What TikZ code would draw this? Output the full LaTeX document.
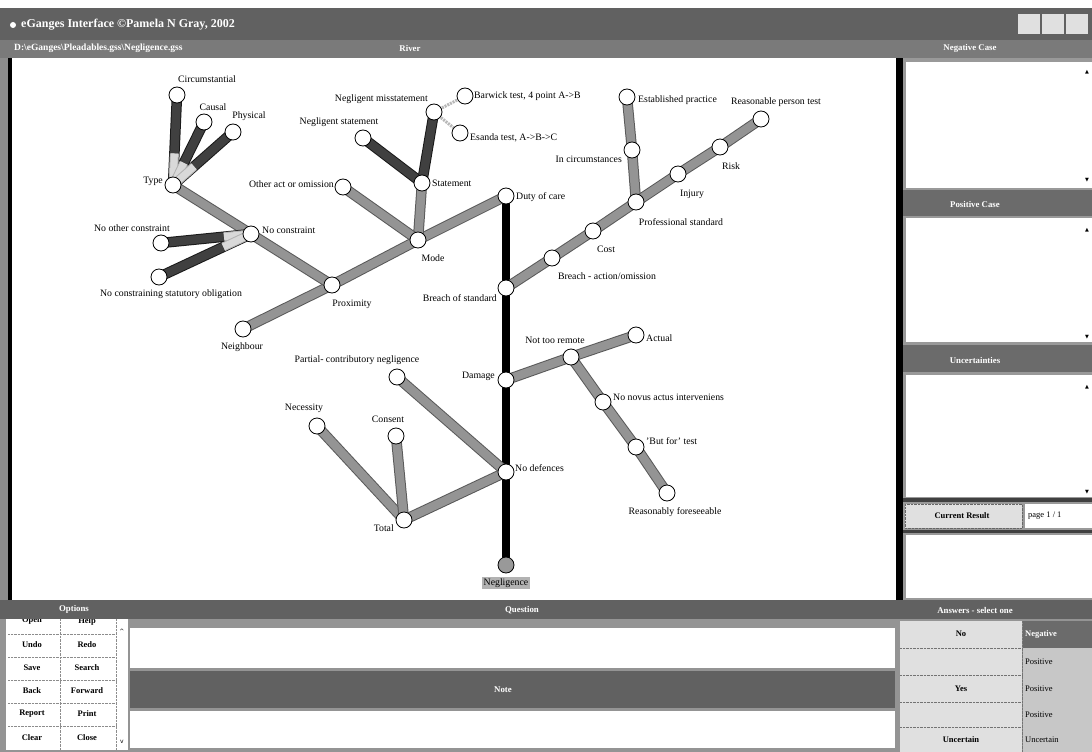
\documentclass[tikz,border=0pt]{standalone}
\usepackage{fontspec}
\setmainfont{Liberation Serif}
\newfontfamily\symfont{DejaVu Sans}
\usetikzlibrary{calc}
\pgfdeclarelayer{panel}
\pgfdeclarelayer{edges}
\pgfsetlayers{panel,edges,main}
\begin{document}
\begin{tikzpicture}[x=1pt,y=-1pt,
  stop/.style={circle,draw,fill=white,line width=0.8pt,minimum size=16pt,inner sep=0pt},
  root/.style={stop,fill=black!40},
  lbl/.style={inner sep=1pt,font=\fontsize{9.8}{11}\selectfont},
  trunk/.style={line width=8pt,black},
  branch/.style={double=black!42,double distance=8.5pt,line width=1pt,draw=black!65},
  darkbr/.style={double=black!75,double distance=8.5pt,line width=1pt,draw=black!90},
  glow/.style={double=black!15,double distance=7pt,line width=1pt,draw=black!30},
  thinbr/.style={line width=3pt,black!28,dash pattern=on 2pt off 1pt},
  hdr/.style={text=white,inner sep=1pt,font=\fontsize{8.8}{10}\selectfont\bfseries},
  btn/.style={inner sep=1pt,font=\fontsize{8.5}{10}\selectfont\bfseries},
  arr/.style={inner sep=0pt,font=\symfont\fontsize{5}{6}\selectfont}
]
\useasboundingbox (0,0) rectangle (1092,752);
\begin{pgfonlayer}{panel}
% top bars
\fill[white] (0,0) rectangle (1092,8);
\fill[black!62] (0,8) rectangle (1092,40);
\fill[black!52] (0,40) rectangle (1092,58);
\foreach \x in {1018,1042,1066} \fill[black!12] (\x,14) rectangle ++(22,20);
% left border
\fill[black!45] (0,58) rectangle (12,600);
\fill[black] (8,58) rectangle (12,600);
% canvas
\fill[white] (12,58) rectangle (896,597);
% right column
\fill[black!40] (896,58) rectangle (1092,600);
\fill[black] (896,58) rectangle (903,600);
\fill[white] (906,62) rectangle (1092,188);
\fill[black!58] (903,190) rectangle (1092,216);
\fill[white] (906,218) rectangle (1092,342);
\fill[black!58] (903,345) rectangle (1092,372);
\fill[white] (906,375) rectangle (1092,497);
\fill[black!75] (903,498) rectangle (1092,502);
\fill[black!12] (905,504) rectangle (1022,528);
\draw[black!60,densely dotted] (905,504) rectangle (1022,528);
\fill[white] (1025,504) rectangle (1092,528);
\fill[black!75] (903,530) rectangle (1092,533);
\fill[white] (906,535) rectangle (1092,598);
% bottom area
\fill[black!42] (0,600) rectangle (1092,752);
\fill[white] (6,612) rectangle (128,750);
\foreach \y in {634,657,680,703,726} \draw[black!45,densely dotted] (8,\y) -- (116,\y);
\draw[black!45,densely dotted] (60,612) -- (60,750);
\draw[black!45,densely dotted] (116,612) -- (116,750);
\node[btn] (open) at (32,621) {Open};
\node[btn] (help) at (87,621) {Help};
\fill[black!62] (0,600) rectangle (1092,619);
\fill[white] (130,628) rectangle (895,668);
\fill[black!62] (130,671) rectangle (895,708);
\fill[white] (130,711) rectangle (895,748);
\fill[black!12] (900,621) rectangle (1022,752);
\foreach \y in {648,675,702,727} \draw[black!55,densely dotted] (900,\y) -- (1022,\y);
\draw[black!55,densely dotted] (1022,621) -- (1022,752);
\fill[black!58] (1023,621) rectangle (1092,648);
\fill[black!22] (1023,648) rectangle (1092,752);
\end{pgfonlayer}

% GUI texts
\node[hdr,anchor=west,font=\fontsize{12}{14}\selectfont\bfseries] (title) at (20,25) {eGanges Interface ©Pamela N Gray, 2002};
\fill[white] (13,25) circle (3pt);
\node[hdr,anchor=west,font=\fontsize{9.5}{11}\selectfont\bfseries] (path) at (13,48) {D:\textbackslash eGanges\textbackslash Pleadables.gss\textbackslash Negligence.gss};
\node[hdr] (river) at (410,48) {River};
\node[hdr] (negcase) at (970,48) {Negative Case};
\node[hdr] (poscase) at (975,204) {Positive Case};
\node[hdr] (uncert) at (975,360) {Uncertainties};
\node[btn] (curres) at (962,516) {Current Result};
\node[lbl,anchor=west,font=\fontsize{8.5}{9}\selectfont] (page) at (1027,516) {page 1 / 1};
\foreach \y/\n in {72/a1,230/a2,387/a3} \node[arr] (up\n) at (1087,\y) {▲};
\foreach \y/\n in {180/b1,337/b2,492/b3} \node[arr] (dn\n) at (1087,\y) {▼};
\node[hdr] (options) at (74,609) {Options};
\node[hdr] (question) at (522,610) {Question};
\node[hdr] (answers) at (975,610) {Answers - select one};
\node[hdr] (note) at (503,690) {Note};
\node[btn] (undo) at (32,645) {Undo};
\node[btn] (redo) at (87,645) {Redo};
\node[btn] (save) at (32,668) {Save};
\node[btn] (search) at (87,668) {Search};
\node[btn] (back) at (32,691) {Back};
\node[btn] (fwd) at (87,691) {Forward};
\node[btn] (report) at (32,714) {Report};
\node[btn] (print) at (87,714) {Print};
\node[btn] (clear) at (32,738) {Clear};
\node[btn] (close) at (87,738) {Close};
\node[arr,font=\symfont\fontsize{6}{7}\selectfont] (sup) at (122,631) {\^{}};
\node[arr,font=\symfont\fontsize{6}{7}\selectfont] (sdn) at (122,742) {v};
\node[btn] (ansno) at (961,634) {No};
\node[btn] (ansyes) at (961,689) {Yes};
\node[btn] (ansunc) at (961,740) {Uncertain};
\node[btn,anchor=west,text=white] (rneg) at (1024,634) {Negative};
\node[btn,anchor=west,font=\fontsize{8.5}{9}\selectfont] (rpos1) at (1024,662) {Positive};
\node[btn,anchor=west,font=\fontsize{8.5}{9}\selectfont] (rpos2) at (1024,689) {Positive};
\node[btn,anchor=west,font=\fontsize{8.5}{9}\selectfont] (rpos3) at (1024,715) {Positive};
\node[btn,anchor=west,font=\fontsize{8.5}{9}\selectfont] (runc) at (1024,740) {Uncertain};

% tree nodes
\node[root] (neg) at (506,565) {};
\node[stop] (nodef) at (506,472) {};
\node[stop] (damage) at (506,380) {};
\node[stop] (breach) at (506,288) {};
\node[stop] (duty) at (506,196) {};
\node[stop] (mode) at (418,240) {};
\node[stop] (statement) at (422,183) {};
\node[stop] (negstat) at (363,138) {};
\node[stop] (negmis) at (434,112) {};
\node[stop] (barwick) at (465,96) {};
\node[stop] (esanda) at (460,133) {};
\node[stop] (other) at (343,187) {};
\node[stop] (prox) at (332,285) {};
\node[stop] (neigh) at (243,329) {};
\node[stop] (nocon) at (251,234) {};
\node[stop] (noother) at (161,243) {};
\node[stop] (nostat) at (159,277) {};
\node[stop] (type) at (173,185) {};
\node[stop] (circ) at (177,95) {};
\node[stop] (causal) at (204,122) {};
\node[stop] (phys) at (233,132) {};
\node[stop] (baction) at (552,258) {};
\node[stop] (cost) at (593,231) {};
\node[stop] (prof) at (636,202) {};
\node[stop] (incirc) at (632,150) {};
\node[stop] (estab) at (627,97) {};
\node[stop] (injury) at (678,174) {};
\node[stop] (risk) at (720,147) {};
\node[stop] (reas) at (761,119) {};
\node[stop] (ntr) at (571,357) {};
\node[stop] (actual) at (636,335) {};
\node[stop] (novus) at (603,402) {};
\node[stop] (butfor) at (636,447) {};
\node[stop] (foresee) at (667,493) {};
\node[stop] (partial) at (397,377) {};
\node[stop] (total) at (404,520) {};
\node[stop] (necess) at (317,426) {};
\node[stop] (consent) at (396,436) {};

% labels
\node[lbl] (tcirc) at (207,79) {Circumstantial};
\node[lbl] (tcausal) at (213,107) {Causal};
\node[lbl] (tphys) at (249,116) {Physical};
\node[lbl,anchor=east] (ttype) at (164,181) {Type};
\node[lbl,anchor=west] (tnocon) at (261,230) {No constraint};
\node[lbl] (tnoother) at (132,228) {No other constraint};
\node[lbl] (tnostat) at (171,294) {No constraining statutory obligation};
\node[lbl] (tprox) at (352,304) {Proximity};
\node[lbl] (tneigh) at (242,347) {Neighbour};
\node[lbl,anchor=east] (tother) at (335,184) {Other act or omission};
\node[lbl] (tnegstat) at (339,122) {Negligent statement};
\node[lbl,anchor=east] (tnegmis) at (429,99) {Negligent misstatement};
\node[lbl,anchor=west] (tbarwick) at (473,96) {Barwick test, 4 point A->B};
\node[lbl,anchor=west] (tesanda) at (469,138) {Esanda test, A->B->C};
\node[lbl,anchor=west] (tstatement) at (431,183) {Statement};
\node[lbl] (tmode) at (433,258) {Mode};
\node[lbl,anchor=west] (tduty) at (515,197) {Duty of care};
\node[lbl,anchor=east] (tbreach) at (498,298) {Breach of standard};
\node[lbl,anchor=west] (testab) at (637,100) {Established practice};
\node[lbl,anchor=east] (tincirc) at (623,159) {In circumstances};
\node[lbl] (treas) at (776,102) {Reasonable person test};
\node[lbl] (trisk) at (731,166) {Risk};
\node[lbl] (tinjury) at (692,194) {Injury};
\node[lbl] (tprof) at (681,222) {Professional standard};
\node[lbl] (tcost) at (606,249) {Cost};
\node[lbl] (tbaction) at (607,276) {Breach - action/omission};
\node[lbl] (tntr) at (555,340) {Not too remote};
\node[lbl,anchor=west] (tactual) at (645,338) {Actual};
\node[lbl,anchor=east] (tdamage) at (496,376) {Damage};
\node[lbl,anchor=west] (tnovus) at (612,397) {No novus actus interveniens};
\node[lbl,anchor=west] (tbutfor) at (645,441) {'But for' test};
\node[lbl] (tforesee) at (675,512) {Reasonably foreseeable};
\node[lbl] (tpartial) at (357,360) {Partial- contributory negligence};
\node[lbl] (tnecess) at (304,408) {Necessity};
\node[lbl] (tconsent) at (388,419) {Consent};
\node[lbl,anchor=west] (tnodef) at (514,468) {No defences};
\node[lbl,anchor=east] (ttotal) at (395,528) {Total};
\node[lbl,fill=black!30,inner sep=2pt] (tneg) at (506,583) {Negligence};

% connectors
\begin{pgfonlayer}{edges}
\draw[trunk] (neg.center) -- (nodef.center) -- (damage.center) -- (breach.center) -- (duty.center);
\foreach \a/\b in {duty/mode, mode/statement, mode/other, mode/prox, prox/neigh, prox/nocon, nocon/type,
  breach/baction, baction/cost, cost/prof, prof/incirc, incirc/estab, prof/injury, injury/risk, risk/reas,
  damage/ntr, ntr/actual, ntr/novus, novus/butfor, butfor/foresee,
  nodef/partial, nodef/total, total/necess, total/consent}
  \draw[branch] (\a.center) -- (\b.center);
\foreach \a/\b in {statement/negstat, statement/negmis, nocon/noother, nocon/nostat, type/circ, type/causal, type/phys}
  \draw[darkbr] (\a.center) -- (\b.center);
\foreach \b in {circ,causal,phys}
  \draw[glow] (type.center) -- ($(type.center)!0.35!(\b.center)$);
\foreach \b in {noother,nostat}
  \draw[glow] (nocon.center) -- ($(nocon.center)!0.3!(\b.center)$);
\draw[thinbr] (negmis.center) -- (barwick.center);
\draw[thinbr] (negmis.center) -- (esanda.center);
\end{pgfonlayer}
\end{tikzpicture}
\end{document}
